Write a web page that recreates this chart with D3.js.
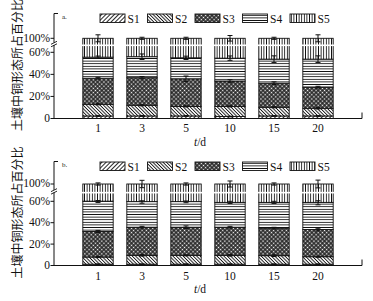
<!DOCTYPE html>
<html>
<head>
<meta charset="utf-8">
<script src="https://cdn.jsdelivr.net/npm/d3@7"></script>
<style>
  body { margin: 0; background: #fff; }
  text { font-family: "Liberation Serif", "DejaVu Serif", serif; fill: #111; }
</style>
</head>
<body>
<svg id="chart" width="373" height="301"></svg>
<script>
// categories and tick labels
const days = ["1", "3", "5", "10", "15", "20"];
const seriesNames = ["S1", "S2", "S3", "S4", "S5"];
const yTickValues = [0, 20, 40, 60, 100];
const yTickLabels = ["0", "20%", "40%", "60%", "100%"];
const yLabel = "土壤中铜形态所占百分比";

// panel a: segment heights (%)
const aS1 = [2.3, 2.3, 2.3, 1.8, 2.3, 2.3];
const aS2 = [10.6, 9.7, 8.7, 9.2, 7.9, 7.0];
const aS3 = [23.6, 25.0, 25.0, 23.0, 21.8, 19.1];
const aS4 = [19.1, 19.0, 19.0, 20.7, 21.8, 25.4];
const aS5 = [44.4, 44.0, 45.0, 45.3, 46.2, 46.2];
// panel a: error (+/-) at the top of each segment
const aErrS1 = [0.3, 0.3, 0.3, 0.3, 0.3, 0.3];
const aErrS2 = [0.5, 0.5, 0.5, 0.5, 0.5, 0.7];
const aErrS3 = [0.8, 1.0, 2.5, 1.2, 1.2, 0.8];
const aErrS4 = [1.0, 2.5, 1.5, 2.0, 3.0, 3.0];
const aErrS5 = [10, 3, 3, 8, 3, 10];

// panel b: segment heights (%)
const bS1 = [1.2, 1.2, 1.2, 1.2, 1.2, 1.2];
const bS2 = [6.7, 8.3, 8.3, 8.3, 8.0, 7.0];
const bS3 = [23.9, 26.3, 26.3, 26.3, 25.7, 25.4];
const bS4 = [28.5, 23.9, 23.9, 23.2, 24.1, 25.4];
const bS5 = [39.7, 40.3, 40.3, 41.0, 41.0, 41.0];
const bErrS1 = [0.3, 0.3, 0.3, 0.3, 0.3, 0.3];
const bErrS2 = [0.5, 0.7, 0.5, 0.7, 0.8, 0.5];
const bErrS3 = [1.0, 0.8, 1.2, 0.8, 0.8, 1.2];
const bErrS4 = [1.5, 1.5, 1.0, 1.0, 1.0, 2.3];
const bErrS5 = [2.5, 8.5, 2.5, 7, 2.5, 9];

const breakValue = 80;

const panels = [
  { tag: "a.", series: [aS1, aS2, aS3, aS4, aS5], errs: [aErrS1, aErrS2, aErrS3, aErrS4, aErrS5],
    y0: 118.5, y60: 52.3, y100: 38.3, top: 13.5, legendY: 14, tickY: 132, titleY: 146 },
  { tag: "b.", series: [bS1, bS2, bS3, bS4, bS5], errs: [bErrS1, bErrS2, bErrS3, bErrS4, bErrS5],
    y0: 265.5, y60: 201.3, y100: 184, top: 161.5, legendY: 162, tickY: 280, titleY: 293 }
];

const svg = d3.select("#chart");
const defs = svg.append("defs");

// fill patterns
function linePattern(id, w, h, line, rot) {
  const p = defs.append("pattern").attr("id", id)
    .attr("patternUnits", "userSpaceOnUse")
    .attr("width", w).attr("height", h);
  if (rot) p.attr("patternTransform", `rotate(${rot})`);
  p.append("rect").attr("width", w).attr("height", h).attr("fill", "#fff");
  p.append("path").attr("d", line).attr("stroke", "#111").attr("stroke-width", 0.9);
}
linePattern("pS1", 3, 4, "M1.5,0V4", 45);
linePattern("pS2", 2.4, 4, "M1.2,0V4", -45);
const p3 = defs.append("pattern").attr("id", "pS3")
  .attr("patternUnits", "userSpaceOnUse").attr("width", 3).attr("height", 3)
  .attr("patternTransform", "rotate(45)");
p3.append("rect").attr("width", 3).attr("height", 3).attr("fill", "#fff");
p3.append("path").attr("d", "M0,1H3M1,0V3").attr("stroke", "#222").attr("stroke-width", 1.5);
linePattern("pS4", 4, 2.6, "M0,1.3H4", 0);
linePattern("pS5", 2.6, 4, "M1.3,0V4", 0);

const x = d3.scaleBand()
  .domain(days)
  .range([54, 362])
  .paddingInner(0.31)
  .paddingOuter(0.655);

panels.forEach(pn => {
  const y = d3.scaleLinear().domain([0, 60, 100]).range([pn.y0, pn.y60, pn.y100]);
  const g = svg.append("g");

  // stacked segments
  const rows = days.map((d, i) => {
    let acc = 0;
    return pn.series.map((s, k) => {
      const lo = acc; acc += s[i];
      return { day: d, k, lo, hi: k === 4 ? 100 : acc, err: pn.errs[k][i] };
    });
  });

  rows.forEach(segs => {
    g.selectAll(null).data(segs).enter().append("rect")
      .attr("x", d => x(d.day))
      .attr("width", x.bandwidth())
      .attr("y", d => y(d.hi))
      .attr("height", d => y(d.lo) - y(d.hi))
      .attr("fill", d => `url(#pS${d.k + 1})`)
      .attr("stroke", "#111")
      .attr("stroke-width", 0.9);
  });

  // break gap through bars
  g.selectAll(null).data(days).enter().append("rect")
    .attr("x", d => x(d) - 1)
    .attr("width", x.bandwidth() + 2)
    .attr("y", y(breakValue) - 0.8)
    .attr("height", 1.6)
    .attr("fill", "#fff");

  // error bars
  const allSegs = rows.flat();
  const eb = g.selectAll(null).data(allSegs).enter().append("g")
    .attr("stroke", "#111").attr("stroke-width", 1);
  const cx = d => x(d.day) + x.bandwidth() / 2;
  eb.append("line")
    .attr("x1", cx).attr("x2", cx)
    .attr("y1", d => y(d.hi + d.err)).attr("y2", d => y(d.hi - d.err));
  eb.append("line")
    .attr("x1", d => cx(d) - 2.5).attr("x2", d => cx(d) + 2.5)
    .attr("y1", d => y(d.hi + d.err)).attr("y2", d => y(d.hi + d.err));
  eb.append("line")
    .attr("x1", d => cx(d) - 2.5).attr("x2", d => cx(d) + 2.5)
    .attr("y1", d => y(d.hi - d.err)).attr("y2", d => y(d.hi - d.err));

  // y axis
  g.append("line").attr("x1", 54).attr("x2", 54)
    .attr("y1", pn.top).attr("y2", pn.y0)
    .attr("stroke", "#111").attr("stroke-width", 1);
  g.append("line").attr("x1", 54).attr("x2", 58)
    .attr("y1", pn.top).attr("y2", pn.top)
    .attr("stroke", "#111").attr("stroke-width", 1);
  g.selectAll(null).data(yTickValues).enter().append("line")
    .attr("x1", 50.5).attr("x2", 54)
    .attr("y1", d => y(d)).attr("y2", d => y(d))
    .attr("stroke", "#111").attr("stroke-width", 1);
  g.selectAll(null).data(yTickValues).enter().append("text")
    .attr("x", 50)
    .attr("y", d => y(d))
    .attr("dy", "0.3em")
    .attr("text-anchor", "end")
    .style("font-size", "11.5px")
    .text((d, i) => yTickLabels[i]);

  // axis break mark
  const by = y(breakValue) - 1.5;
  g.append("rect").attr("x", 52).attr("y", by - 1.2).attr("width", 4).attr("height", 2.4).attr("fill", "#fff");
  g.append("path")
    .attr("d", `M51,${by + 0.5}L57,${by - 2.5}M51,${by + 3}L57,${by}`)
    .attr("stroke", "#111").attr("stroke-width", 0.9);

  // x axis
  g.append("line").attr("x1", 54).attr("x2", 362)
    .attr("y1", pn.y0).attr("y2", pn.y0)
    .attr("stroke", "#111").attr("stroke-width", 1);
  g.append("line").attr("x1", 362).attr("x2", 362)
    .attr("y1", pn.y0 - 6).attr("y2", pn.y0)
    .attr("stroke", "#111").attr("stroke-width", 1);
  g.selectAll(null).data(days).enter().append("text")
    .attr("x", d => x(d) + x.bandwidth() / 2)
    .attr("y", pn.tickY)
    .attr("text-anchor", "middle")
    .style("font-size", "11.5px")
    .text(d => d);

  const t = g.append("text").attr("x", 200).attr("y", pn.titleY)
    .attr("text-anchor", "middle").style("font-size", "11.5px");
  t.append("tspan").style("font-style", "italic").text("t");
  t.append("tspan").text("/d");

  // panel tag
  g.append("text").attr("x", 62).attr("y", pn.legendY + 5)
    .style("font-size", "7px").text(pn.tag);

  // y label
  g.append("text")
    .attr("transform", `translate(22,${(pn.top + pn.y0) / 2 - 1}) rotate(-90)`)
    .attr("text-anchor", "middle")
    .style("font-family", "'Noto Sans CJK SC'")
    .style("font-size", "12px")
    .text(yLabel);

  // legend
  const lg = g.selectAll(null).data(seriesNames).enter().append("g")
    .attr("transform", (d, i) => `translate(${100 + i * 47.5},${pn.legendY})`);
  lg.append("rect").attr("width", 25).attr("height", 8.5)
    .attr("fill", (d, i) => `url(#pS${i + 1})`)
    .attr("stroke", "#111").attr("stroke-width", 0.9);
  lg.append("text").attr("x", 27.5).attr("y", 8.5)
    .style("font-size", "11.5px").text(d => d);
});
</script>
</body>
</html>
